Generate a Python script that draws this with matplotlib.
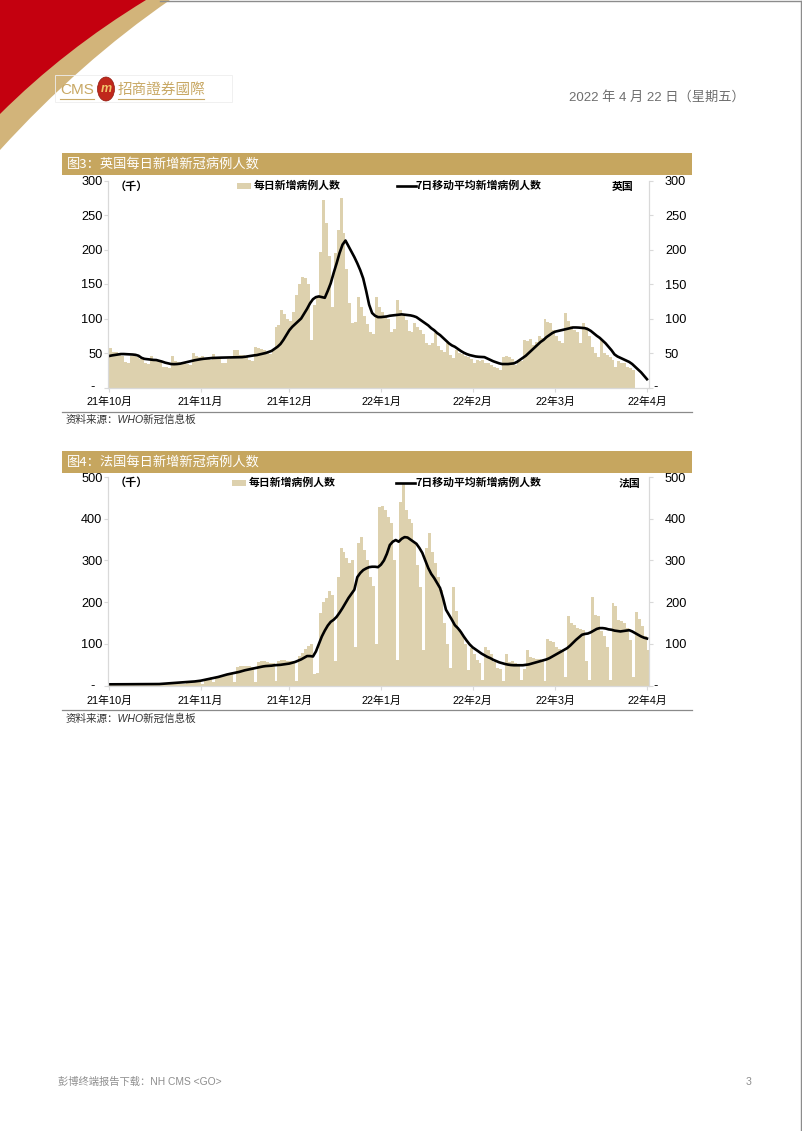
import matplotlib
matplotlib.use("Agg")
import matplotlib.pyplot as plt
from matplotlib.patches import Rectangle, PathPatch, Circle
from matplotlib.path import Path
from matplotlib.lines import Line2D

W, H = 802, 1131
CJK = ["Noto Sans CJK SC", "DejaVu Sans"]
NUM = ["Liberation Sans", "Noto Sans CJK SC"]

# day 0 = 2021-10-01
MONTH_TICKS = [0, 31, 61, 92, 123, 151, 182]
MONTH_LABELS = ["21年10月", "21年11月", "21年12月", "22年1月", "22年2月", "22年3月", "22年4月"]

# UK daily new cases (thousand)
UK_DAILY = [
    57, 52, 52, 47, 46, 37, 36, 45, 46, 44,
    42, 42, 35, 34, 45, 41, 40, 40, 30, 30,
    28, 45, 38, 37, 35, 35, 34, 33, 50, 45,
    44, 45, 42, 42, 40, 49, 43, 42, 36, 35,
    42, 44, 55, 54, 47, 47, 46, 40, 39, 58,
    57, 56, 54, 52, 49, 55, 88, 90, 112, 106,
    100, 96, 110, 134, 150, 160, 158, 150, 69, 120,
    131, 196, 272, 238, 190, 117, 195, 228, 275, 224,
    172, 122, 93, 95, 131, 117, 104, 92, 80, 78,
    131, 117, 110, 102, 100, 80, 85, 127, 112, 105,
    98, 82, 80, 93, 88, 84, 78, 64, 62, 64,
    79, 60, 54, 52, 64, 47, 43, 54, 50, 48,
    46, 44, 42, 35, 40, 38, 40, 36, 35, 32,
    30, 28, 25, 44, 45, 44, 42, 33, 40, 38,
    69, 67, 70, 62, 66, 74, 72, 100, 95, 93,
    83, 74, 68, 64, 108, 97, 89, 83, 80, 64,
    93, 88, 74, 59, 50, 44, 69, 50, 47, 44,
    40, 30, 38, 35, 35, 30, 28, 25,
]

# UK 7-day moving average (thousand)
UK_MA7 = [
    45.6, 46.5, 47.2, 48, 48.5, 48.5, 48.3, 48, 47.8, 47.3, 46,
    43, 41.5, 41, 40.5, 40, 39.8, 38.7, 37.5, 36, 35,
    34, 33.8, 34, 34.5, 35.5, 36.5, 37.5, 38.5, 39.5, 40.3,
    41, 41.6, 42, 42.5, 42.8, 43, 43.2, 43.3, 43.4, 43.5,
    43.6, 43.7, 43.8, 44, 44, 44.5, 45.2, 46, 46.5, 47,
    48, 49, 50, 51.5, 53, 56, 59, 63, 69, 76,
    83, 88, 92, 96, 100, 107, 114, 122, 128, 131,
    132, 131, 130, 140, 151, 166, 180, 195, 207, 213,
    205, 197, 189, 180, 170, 158, 140, 120, 108, 104,
    102, 102, 102.5, 103, 104, 104.5, 105, 105.5, 106, 105.5,
    105, 104.5, 103.5, 102, 99, 96, 93, 90, 86, 83,
    79, 76, 72, 68, 64, 61, 59, 56, 53, 50.5,
    48.5, 47, 46, 45, 44.5, 44.3, 44, 42, 40, 38,
    36.5, 35, 34, 34, 34, 34.5, 35, 37, 40, 43,
    46, 50, 54, 58, 62, 66, 69, 73, 76, 79,
    81, 82, 83, 84, 85, 86, 87, 87, 86.8, 86.4,
    86, 84.5, 82, 78.5, 75, 72, 68, 64, 59, 54,
    48, 45, 43, 41, 39, 37, 34, 30, 26, 22,
    17, 12,
]

# France daily new cases (thousand)
FR_DAILY = [
    4, 4, 4, 3, 2, 5, 5, 4, 4, 4,
    3, 2, 5, 5, 5, 4, 4, 3, 2, 6,
    6, 7, 7, 6, 4, 3, 9, 10, 11, 11,
    10, 5, 16, 18, 20, 8, 22, 24, 26, 27,
    28, 29, 8, 44, 46, 47, 48, 46, 45, 10,
    56, 58, 58, 57, 55, 54, 12, 60, 62, 61,
    60, 58, 60, 12, 70, 78, 88, 95, 101, 28,
    30, 174, 200, 210, 226, 218, 58, 261, 330, 320,
    307, 295, 300, 93, 342, 357, 325, 301, 261, 240,
    101, 429, 430, 421, 405, 389, 301, 62, 440, 485,
    421, 400, 389, 341, 290, 237, 85, 330, 365, 320,
    294, 260, 230, 150, 100, 43, 237, 180, 135, 125,
    101, 38, 90, 77, 61, 55, 13, 93, 85, 77,
    57, 43, 40, 11, 77, 57, 60, 55, 50, 14,
    40, 85, 68, 66, 64, 64, 60, 11, 112, 108,
    104, 93, 88, 85, 21, 166, 150, 145, 138, 136,
    134, 60, 14, 213, 170, 166, 130, 120, 93, 14,
    198, 190, 158, 155, 150, 138, 110, 21, 177, 160,
    143, 118, 85,
]

# France 7-day moving average (thousand)
FR_MA7 = [
    3.3, 3.3, 3.4, 3.4, 3.5, 3.5, 3.5, 3.6, 3.6, 3.6,
    3.7, 3.7, 3.8, 3.8, 3.9, 3.9, 4.0, 4.0, 4.5, 5.0,
    5.5, 6.0, 6.5, 7.0, 7.5, 8.0, 8.5, 9.0, 9.5, 10.2,
    11, 12, 13.5, 15, 16.5, 18, 19.5, 21, 23, 25,
    27, 28.5, 30, 31.5, 33, 35, 37, 38.5, 40, 41.5,
    43, 44.5, 46, 47, 47.5, 48, 49, 49.5, 50, 51,
    52, 53, 55, 57, 60, 63, 67, 71, 71, 70,
    82, 100, 118, 132, 144, 153, 158, 165, 175, 186,
    198, 210, 220, 230, 260, 270, 277, 281, 284, 285,
    285, 284, 290, 300, 316, 337, 345, 349, 345, 352,
    356, 355, 350, 345, 340, 330, 318, 300, 282, 268,
    258, 246, 234, 210, 182, 170, 158, 145, 138, 129,
    118, 108, 99, 92, 87, 82, 77, 73, 69, 66,
    62, 59, 56, 54, 52, 50.5, 49.5, 49, 49, 49,
    49, 50, 51, 53, 55, 57, 59, 61, 63, 66,
    70, 74, 78, 82, 86, 90, 96, 103, 110, 116,
    122, 124, 125, 128, 132, 136, 138, 138, 137, 135,
    134, 132, 131, 130, 131, 132, 133, 130, 126, 122,
    118, 115, 113,
]

BAR = "#DDD1AE"
GOLD = "#C6A65F"
LOGO_GOLD = "#C8A864"
AXIS_GREY = "#D9D9D9"


def fx(x):
    return x / W


def fy(y):
    return 1 - y / H


def rect_px(x0, y0, x1, y1):
    return [fx(x0), fy(y1), (x1 - x0) / W, (y1 - y0) / H]


def ftext(fig, x, y, s, **kw):
    kw.setdefault("va", "center")
    return fig.text(fx(x), fy(y), s, **kw)


def draw_header(fig):
    # red swoosh and gold band in the top-left corner
    gold = Path([(fx(0), fy(0)), (fx(170), fy(0)), (fx(80), fy(62)), (fx(0), fy(150)), (fx(0), fy(0))],
                [Path.MOVETO, Path.LINETO, Path.CURVE3, Path.CURVE3, Path.CLOSEPOLY])
    red = Path([(fx(0), fy(0)), (fx(146), fy(0)), (fx(64), fy(50)), (fx(0), fy(114)), (fx(0), fy(0))],
               [Path.MOVETO, Path.LINETO, Path.CURVE3, Path.CURVE3, Path.CLOSEPOLY])
    fig.patches.append(PathPatch(gold, transform=fig.transFigure, facecolor="#D2B47A", edgecolor="none"))
    fig.patches.append(PathPatch(red, transform=fig.transFigure, facecolor="#C4000F", edgecolor="none"))

    # page frame
    fig.add_artist(Line2D([fx(160), fx(801)], [fy(1), fy(1)], color="#8C8C8C", lw=1.0))
    fig.add_artist(Line2D([fx(801), fx(801)], [fy(1), fy(1131)], color="#8C8C8C", lw=1.0))

    # logo
    fig.patches.append(Rectangle((fx(55), fy(102)), 177 / W, 27 / H, transform=fig.transFigure,
                                 facecolor="none", edgecolor="#EEEEEE", lw=0.6))
    ftext(fig, 60, 90, "CMS", color=LOGO_GOLD, fontsize=11, family=NUM)
    fig.patches.append(Circle((fx(106), fy(89)), 8.5 / W, transform=fig.transFigure,
                              facecolor="#C0281C", edgecolor="#8E1A10", lw=0.5))
    ftext(fig, 106, 89, "m", color="#F2C66B", fontsize=9, ha="center", fontweight="bold",
          style="italic", family=NUM)
    ftext(fig, 118, 90, "招商證券國際", color=LOGO_GOLD, fontsize=10.5, family=["Noto Sans CJK TC"])
    fig.add_artist(Line2D([fx(60), fx(94)], [fy(99), fy(99)], color=LOGO_GOLD, lw=0.8))
    fig.add_artist(Line2D([fx(118), fx(204)], [fy(99), fy(99)], color=LOGO_GOLD, lw=0.8))

    ftext(fig, 745, 97, "2022 年 4 月 22 日（星期五）", ha="right", color="#6E6E6E",
          fontsize=9.5, family=NUM)


def draw_chart(fig, spec, daily, ma7):
    t0 = spec["title_top"]
    fig.patches.append(Rectangle((fx(62), fy(t0 + 22)), (692 - 62) / W, 22 / H,
                                 transform=fig.transFigure, facecolor=GOLD, edgecolor="none"))
    ftext(fig, 67, t0 + 11, spec["title"], color="white", fontsize=9.5, family=CJK)

    ax = fig.add_axes(rect_px(108, spec["ax_top"], 649, spec["ax_bottom"]))
    days = list(range(len(daily)))
    ax.bar(days, daily, width=1.0, align="edge", color=BAR, linewidth=0, antialiased=False)
    ax.plot(list(range(len(ma7))), ma7, color="black", lw=1.9, solid_joinstyle="round")

    ymax, step = spec["ymax"], spec["step"]
    yt = list(range(0, ymax + 1, step))
    ax.set_xlim(-0.34, 182.68)
    ax.set_ylim(0, ymax)
    ax.set_xticks(MONTH_TICKS)
    ax.set_xticklabels(MONTH_LABELS, family=NUM, fontsize=7.8)
    ax.set_yticks(yt)
    ax.set_yticklabels(["" if v == 0 else str(v) for v in yt], family=NUM, fontsize=9.2)
    ax.tick_params(axis="x", length=3, color=AXIS_GREY, pad=4)
    ax.tick_params(axis="y", length=3, color=AXIS_GREY, pad=1)
    for side in ("left", "right", "bottom"):
        ax.spines[side].set_color(AXIS_GREY)
        ax.spines[side].set_linewidth(0.9)
    ax.spines["top"].set_visible(False)

    ax2 = ax.twinx()
    ax2.set_ylim(0, ymax)
    ax2.set_yticks(yt)
    ax2.set_yticklabels(["" if v == 0 else str(v) for v in yt], family=NUM, fontsize=9.2)
    ax2.tick_params(axis="y", length=3, color=AXIS_GREY, pad=8.5)
    for side in ("left", "right", "bottom", "top"):
        ax2.spines[side].set_visible(False)

    # accounting-style dash for zero
    ax.annotate("-", xy=(0, 0), xycoords=("axes fraction", "data"), xytext=(-13, 0),
                textcoords="offset pixels", ha="right", va="center", fontsize=9.2, family=NUM)
    ax.annotate("-", xy=(1, 0), xycoords=("axes fraction", "data"), xytext=(4, 0),
                textcoords="offset pixels", ha="left", va="center", fontsize=9.2, family=NUM)

    # legend row
    ly = spec["ax_top"] + 5.5
    lx = spec["legend_x"]
    fig.patches.append(Rectangle((fx(lx[0]), fy(ly + 3)), 14 / W, 6 / H, transform=fig.transFigure,
                                 facecolor=BAR, edgecolor="none"))
    ftext(fig, lx[0] + 17, ly, "每日新增病例人数", fontsize=7.8, fontweight="bold", family=CJK)
    fig.add_artist(Line2D([fx(lx[1]), fx(lx[1] + 19)], [fy(ly), fy(ly)], color="black", lw=1.9))
    ftext(fig, lx[1] + 19, ly, "7日移动平均新增病例人数", fontsize=7.8, fontweight="bold", family=CJK)
    ftext(fig, 115, ly, "（千）", fontsize=8, fontweight="bold", family=CJK)
    ftext(fig, spec["country_x"], ly + 1, spec["country"], fontsize=7.8, fontweight="bold", family=CJK)

    # source
    sep = spec["ax_bottom"] + 24.5
    fig.add_artist(Line2D([fx(62), fx(692)], [fy(sep), fy(sep)], color="#8A8A8A", lw=0.9))
    ftext(fig, 66, sep + 8, "资料来源：WHO新冠信息板", fontsize=7.6, style="italic",
          color="#333333", family=NUM)


def main():
    fig = plt.figure(figsize=(W / 100, H / 100), dpi=100)
    draw_header(fig)

    uk = dict(title="图3：英国每日新增新冠病例人数", title_top=153, ax_top=180.5, ax_bottom=387.5,
              ymax=300, step=50, legend_x=(237, 397), country="英国", country_x=612)
    fr = dict(title="图4：法国每日新增新冠病例人数", title_top=451, ax_top=477, ax_bottom=685.7,
              ymax=500, step=100, legend_x=(232, 396), country="法国", country_x=619)
    draw_chart(fig, uk, UK_DAILY, UK_MA7)
    draw_chart(fig, fr, FR_DAILY, FR_MA7)

    ftext(fig, 58, 1082, "彭博终端报告下载：NH CMS <GO>", fontsize=7.4, color="#8E8E8E", family=NUM)
    ftext(fig, 746, 1082, "3", fontsize=7.6, color="#8E8E8E", family=NUM)

    fig.savefig("out.png", dpi=100)


if __name__ == "__main__":
    main()
